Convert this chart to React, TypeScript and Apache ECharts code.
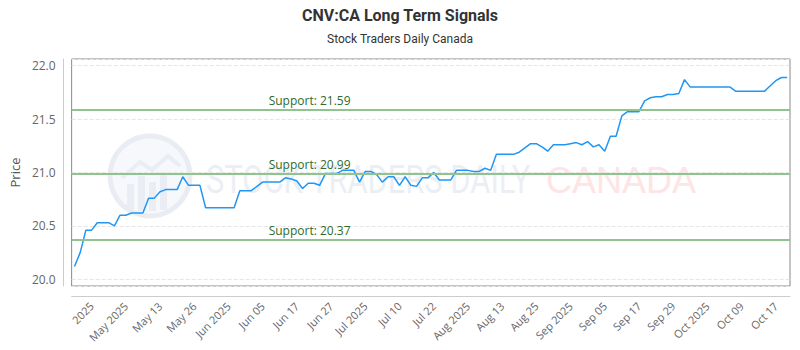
import React, { useEffect, useRef } from "react";
import * as echarts from "echarts";

const prices: number[] = [
  20.12, 20.25, 20.46, 20.46, 20.53, 20.53, 20.53, 20.5, 20.6, 20.6,
  20.62, 20.62, 20.62, 20.76, 20.76, 20.82, 20.84, 20.84, 20.84, 20.96,
  20.88, 20.88, 20.88, 20.67, 20.67, 20.67, 20.67, 20.67, 20.67, 20.83,
  20.83, 20.83, 20.87, 20.91, 20.91, 20.91, 20.91, 20.95, 20.94, 20.92,
  20.85, 20.9, 20.9, 20.88, 20.99, 20.99, 20.99, 21.02, 21.02, 21.02,
  20.91, 21.01, 21.01, 20.98, 20.91, 20.96, 20.96, 20.88, 20.96, 20.88,
  20.87, 20.95, 20.95, 21.0, 20.93, 20.93, 20.93, 21.02, 21.02, 21.02,
  21.01, 21.01, 21.04, 21.02, 21.17, 21.17, 21.17, 21.17, 21.19, 21.23,
  21.27, 21.27, 21.24, 21.2, 21.26, 21.26, 21.26, 21.27, 21.28, 21.26,
  21.29, 21.24, 21.26, 21.2, 21.34, 21.34, 21.53, 21.57, 21.57, 21.57,
  21.67, 21.7, 21.71, 21.71, 21.73, 21.73, 21.74, 21.87, 21.8, 21.8,
  21.8, 21.8, 21.8, 21.8, 21.8, 21.8, 21.76, 21.76, 21.76, 21.76,
  21.76, 21.76, 21.81, 21.86, 21.89, 21.89,
];

const categories: string[] = prices.map((_, i) => `Day ${i + 1}`);

const tickLabels: string[] = [
  "2025", "May 2025", "May 13", "May 26", "Jun 2025", "Jun 05", "Jun 17",
  "Jun 27", "Jul 2025", "Jul 10", "Jul 22", "Aug 2025", "Aug 13", "Aug 25",
  "Sep 2025", "Sep 05", "Sep 17", "Sep 29", "Oct 2025", "Oct 09", "Oct 17",
];
const tickStart = 3;
const tickStep = 6;

const supports: number[] = [21.59, 20.99, 20.37];

const yMin = 19.937;
const yMax = 22.063;

function measure(text: string, font: string): number {
  const c = document.createElement("canvas").getContext("2d");
  if (!c) return text.length * 20;
  c.font = font;
  return c.measureText(text).width;
}

export default function App() {
  const ref = useRef<HTMLDivElement>(null);
  useEffect(() => {
    if (!ref.current) return;
    const chart = echarts.init(ref.current, undefined, { renderer: "svg" });
    const wmFont = "38px Roboto";
    const wmText = "STOCK TRADERS DAILY";
    const wmW = measure(wmText, wmFont);
    const wmScale = 325 / wmW;

    chart.setOption({
      animation: false,
      backgroundColor: "#ffffff",
      title: {
        text: "CNV:CA Long Term Signals",
        subtext: "Stock Traders Daily Canada",
        left: "center",
        top: 2,
        itemGap: 10,
        textStyle: { fontFamily: "Roboto", fontSize: 16, fontWeight: "bold", color: "#333" },
        subtextStyle: { fontFamily: "Roboto", fontSize: 12, color: "#333" },
      },
      grid: {
        left: 70,
        right: 10,
        top: 59,
        bottom: 64,
        show: true,
        borderColor: "#888",
        borderWidth: 1,
        backgroundColor: "transparent",
      },
      graphic: [
        {
          type: "group",
          z: -1,
          silent: true,
          children: [
            {
              type: "circle",
              shape: { cx: 150, cy: 176, r: 40 },
              style: { fill: "#f6f8fb", stroke: "#e9edf3", lineWidth: 5 },
            },
            {
              type: "polyline",
              shape: { points: [[122, 178], [140, 162], [152, 170], [168, 156], [180, 166]] },
              style: { stroke: "#e9edf4", lineWidth: 4, fill: "none" },
            },
            { type: "rect", shape: { x: 127, y: 184, width: 7, height: 26 }, style: { fill: "#eaeef4" } },
            { type: "rect", shape: { x: 138, y: 176, width: 7, height: 35 }, style: { fill: "#eaeef4" } },
            { type: "rect", shape: { x: 149, y: 182, width: 7, height: 29 }, style: { fill: "#eaeef4" } },
            { type: "rect", shape: { x: 160, y: 172, width: 7, height: 38 }, style: { fill: "#eaeef4" } },
            {
              type: "text",
              x: 206,
              y: 180,
              scaleX: wmScale,
              style: {
                text: wmText,
                font: wmFont,
                fill: "#ebeff5",
                verticalAlign: "middle",
                align: "left",
              },
            },
            {
              type: "text",
              x: 546,
              y: 180,
              style: {
                text: "CANADA",
                font: "36px 'Liberation Sans'",
                fill: "#fde5e5",
                verticalAlign: "middle",
                align: "left",
              },
            },
          ],
        },
      ],
      xAxis: {
        type: "category",
        data: categories,
        boundaryGap: true,
        offset: 10,
        axisLine: { show: true, lineStyle: { color: "#ccc", width: 1 } },
        axisTick: { show: false },
        splitLine: { show: false },
        axisLabel: {
          rotate: 45,
          margin: 8,
          color: "#666",
          fontFamily: "Open Sans",
          fontSize: 11,
          interval: (idx: number) => idx >= tickStart && (idx - tickStart) % tickStep === 0,
          formatter: (_v: string, idx: number) => {
            const k = (idx - tickStart) / tickStep;
            return Number.isInteger(k) && k >= 0 && k < tickLabels.length ? tickLabels[k] : "";
          },
        },
      },
      yAxis: {
        type: "value",
        min: yMin,
        max: yMax,
        splitNumber: 5,
        offset: 8,
        name: "Price",
        nameLocation: "middle",
        nameGap: 42,
        nameTextStyle: { color: "#555", fontFamily: "Open Sans", fontSize: 13 },
        axisLine: { show: true, lineStyle: { color: "#ccc", width: 1 } },
        axisTick: { show: false },
        axisLabel: {
          color: "#666",
          fontFamily: "Open Sans",
          fontSize: 12,
          margin: 8,
          showMinLabel: false,
          showMaxLabel: false,
          formatter: (v: number) => v.toFixed(1),
        },
        splitLine: { show: true, lineStyle: { color: "#e6e6e6", type: "dashed", width: 1 } },
      },
      series: [
        {
          type: "line",
          data: prices,
          showSymbol: false,
          symbol: "none",
          z: 3,
          lineStyle: { color: "#2196f3", width: 1.5 },
          itemStyle: { color: "#2196f3" },
          markLine: {
            silent: true,
            symbol: "none",
            animation: false,
            lineStyle: { color: "#8fc48f", width: 2, type: "solid" },
            label: {
              show: true,
              position: "insideStartTop",
              distance: 3,
              padding: [0, 0, 0, 194],
              color: "#2e6b2e",
              fontFamily: "Open Sans",
              fontSize: 12,
              formatter: (p: any) => `Support: ${p.value}`,
            },
            data: supports.map((s) => ({ yAxis: s })),
          },
        },
      ],
    });
    return () => chart.dispose();
  }, []);
  return (
    <div
      ref={ref}
      style={{ position: "fixed", left: 0, top: 0, width: 800, height: 350 }}
    />
  );
}
